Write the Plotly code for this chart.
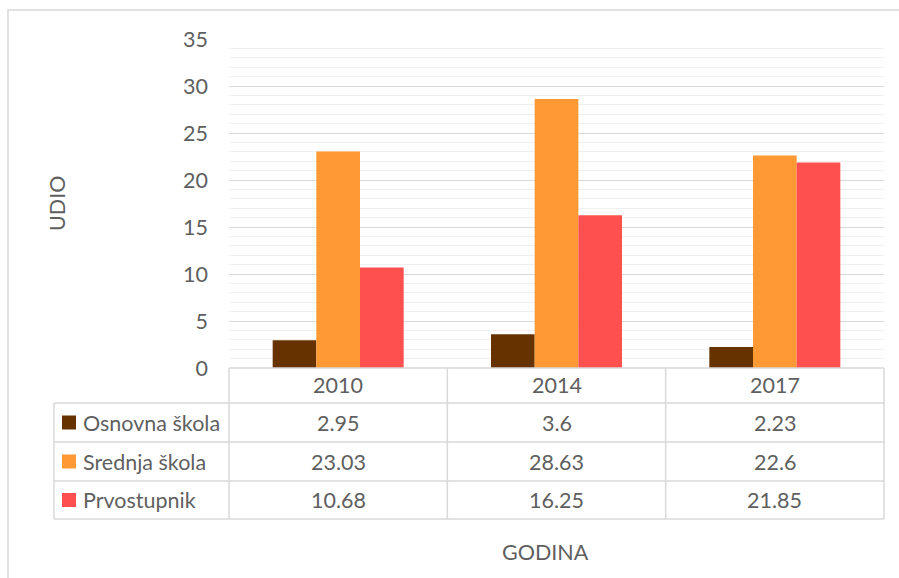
import plotly.graph_objects as go

# ---- data ----
categories = ["2010", "2014", "2017"]
series_names = ["Osnovna škola", "Srednja škola", "Prvostupnik"]
osnovna = [2.95, 3.6, 2.23]
srednja = [23.03, 28.63, 22.6]
prvostupnik = [10.68, 16.25, 21.85]
colors = ["#663300", "#FF9933", "#FF5050"]
y_title = "UDIO"
x_title = "GODINA"

W, H = 899, 578
FONT = "Lato"
FS = 21.5
TXT = "#5F5F5F"
GRID = "#D9D9D9"

def px(x):
    return x / W

def py(y):
    return 1 - y / H

# plot area in pixels
L, R, T, B = 229, 884, 39, 368

fig = go.Figure()
all_series = [osnovna, srednja, prvostupnik]
for name, vals, col in zip(series_names, all_series, colors):
    fig.add_trace(go.Bar(x=categories, y=vals, name=name, marker=dict(color=col, line=dict(width=0)),
                         hoverinfo="skip"))

shapes = []
annotations = []

# outer chart border
shapes.append(dict(type="rect", xref="paper", yref="paper", x0=px(8), x1=px(915), y0=py(10), y1=py(600),
                   line=dict(color=GRID, width=1.5), fillcolor="rgba(0,0,0,0)", layer="below"))

# data table geometry
tbl_left = 54
row_y = [368, 403, 442, 481, 519]
col_w = (R - L) / len(categories)
col_x = [L + i * col_w for i in range(len(categories) + 1)]

line = dict(color=GRID, width=1.5)
shapes.append(dict(type="line", xref="paper", yref="paper", x0=px(L), x1=px(R), y0=py(row_y[0]), y1=py(row_y[0]), line=line))
for yy in row_y[1:]:
    shapes.append(dict(type="line", xref="paper", yref="paper", x0=px(tbl_left), x1=px(R), y0=py(yy), y1=py(yy), line=line))
for xx in col_x:
    shapes.append(dict(type="line", xref="paper", yref="paper", x0=px(xx), x1=px(xx), y0=py(row_y[0]), y1=py(row_y[-1]), line=line))
shapes.append(dict(type="line", xref="paper", yref="paper", x0=px(tbl_left), x1=px(tbl_left), y0=py(row_y[1]), y1=py(row_y[-1]), line=line))

for i, c in enumerate(categories):
    annotations.append(dict(text=c, xref="paper", yref="paper", x=px((col_x[i] + col_x[i + 1]) / 2),
                            y=py((row_y[0] + row_y[1]) / 2), showarrow=False, xanchor="center", yanchor="middle",
                            font=dict(family=FONT, size=FS, color=TXT)))

for r, (name, vals, col) in enumerate(zip(series_names, all_series, colors)):
    yc = (row_y[r + 1] + row_y[r + 2]) / 2
    shapes.append(dict(type="rect", xref="paper", yref="paper", x0=px(62), x1=px(76), y0=py(yc - 7), y1=py(yc + 7),
                       fillcolor=col, line=dict(width=0)))
    annotations.append(dict(text=name, xref="paper", yref="paper", x=px(81), y=py(yc), showarrow=False,
                            xanchor="left", yanchor="middle", font=dict(family=FONT, size=FS, color=TXT)))
    for i, v in enumerate(vals):
        annotations.append(dict(text=f"{v:g}", xref="paper", yref="paper", x=px((col_x[i] + col_x[i + 1]) / 2),
                                y=py(yc), showarrow=False, xanchor="center", yanchor="middle",
                                font=dict(family=FONT, size=FS, color=TXT)))

annotations.append(dict(text=y_title, xref="paper", yref="paper", x=px(57), y=py(204), showarrow=False,
                        textangle=-90, xanchor="center", yanchor="middle", font=dict(family=FONT, size=FS, color=TXT)))
annotations.append(dict(text=x_title, xref="paper", yref="paper", x=px(545), y=py(552), showarrow=False,
                        xanchor="center", yanchor="middle", font=dict(family=FONT, size=FS, color=TXT)))

fig.update_layout(
    width=W, height=H,
    margin=dict(l=0, r=0, t=0, b=0, pad=0, autoexpand=False),
    paper_bgcolor="white", plot_bgcolor="white",
    barmode="group", bargap=0.4, bargroupgap=0,
    showlegend=False, hovermode=False,
    font=dict(family=FONT, size=FS, color=TXT),
    xaxis=dict(domain=[px(L), px(R)], type="category", range=[-0.5, 2.5], showticklabels=False,
               showgrid=False, zeroline=False, showline=False, ticks="", automargin=False),
    yaxis=dict(domain=[py(B), py(T)], range=[0, 35], dtick=5, tick0=0, showgrid=True, gridcolor=GRID, gridwidth=1,
               zeroline=False, showline=False, ticks="", ticklabelstandoff=20, automargin=False,
               tickfont=dict(family=FONT, size=FS, color=TXT),
               minor=dict(dtick=1, tick0=0, showgrid=True, gridcolor="#EFEFEF", gridwidth=1)),
    shapes=shapes,
    annotations=annotations,
)

fig.write_html("out.html", config={"displayModeBar": False, "staticPlot": True},
               post_script="document.body.style.margin='0';document.body.style.overflow='hidden';")
